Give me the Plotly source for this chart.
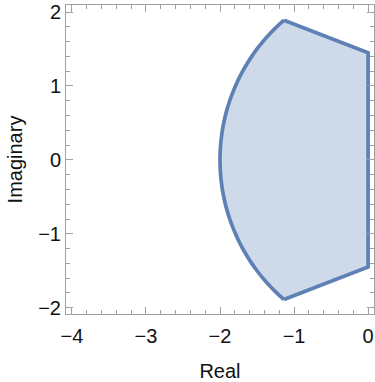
import plotly.graph_objects as go

# Curved (left) part of the boundary: imaginary values and real values
arc_im = [1.89, 1.8, 1.7, 1.6, 1.5, 1.4, 1.3, 1.2, 1.1, 1.0, 0.9, 0.8, 0.7, 0.6, 0.5, 0.4, 0.3, 0.2, 0.1, 0.0,
          -0.1, -0.2, -0.3, -0.4, -0.5, -0.6, -0.7, -0.8, -0.9, -1.0, -1.1, -1.2, -1.3, -1.4, -1.5, -1.6, -1.7, -1.8, -1.89]
arc_re = [-1.136, -1.235, -1.333, -1.421, -1.5, -1.571, -1.635, -1.693, -1.745, -1.791, -1.832, -1.869, -1.9,
          -1.927, -1.949, -1.968, -1.982, -1.992, -1.998, -2.0,
          -1.998, -1.992, -1.982, -1.968, -1.949, -1.927, -1.9, -1.869, -1.832, -1.791, -1.745, -1.693, -1.635,
          -1.571, -1.5, -1.421, -1.333, -1.235, -1.136]
# Straight part of the boundary: bottom corner -> right edge -> top corner
straight_re = [-1.136, 0.0, 0.0, -1.136]
straight_im = [-1.89, -1.45, 1.45, 1.89]

x_ticks = [-4, -3, -2, -1, 0]
y_ticks = [-2, -1, 0, 1, 2]

line_col = "#5E81B5"
fill_col = "rgba(94,129,181,0.30)"
frame_col = "#a0a0a0"

fig = go.Figure()
fig.add_trace(go.Scatter(
    x=arc_re + straight_re[1:], y=arc_im + straight_im[1:], mode="lines", fill="toself",
    fillcolor=fill_col, line=dict(width=0, color=fill_col), hoverinfo="skip", showlegend=False))
fig.add_trace(go.Scatter(
    x=arc_re, y=arc_im, mode="lines", line=dict(color=line_col, width=3.7, shape="spline"),
    hoverinfo="skip", showlegend=False))
fig.add_trace(go.Scatter(
    x=straight_re, y=straight_im, mode="lines", line=dict(color=line_col, width=3.7),
    hoverinfo="skip", showlegend=False))

axis_common = dict(
    showgrid=False, zeroline=False, showline=True, linecolor=frame_col, linewidth=1,
    mirror="ticks", ticks="inside", ticklen=7, tickcolor=frame_col, tickwidth=1,
    tickfont=dict(family="Liberation Sans, Arial, sans-serif", size=20, color="#111"),
    minor=dict(ticks="inside", ticklen=4, tickcolor=frame_col, dtick=0.2, showgrid=False),
)

fig.update_layout(
    width=375, height=382,
    margin=dict(l=66, r=1, t=5, b=68),
    paper_bgcolor="white", plot_bgcolor="white",
    font=dict(family="Liberation Sans, Arial, sans-serif", color="#111"),
    xaxis=dict(range=[-4.08, 0.08], tickvals=x_ticks,
               ticktext=["\u22124", "\u22123", "\u22122", "\u22121", "0"], ticklabelstandoff=4,
               title=dict(text="Real", font=dict(size=20), standoff=18), **axis_common),
    yaxis=dict(range=[-2.085, 2.095], tickvals=y_ticks,
               ticktext=["\u22122", "\u22121", "0", "1", "2"],
               title=dict(text="Imaginary", font=dict(size=20), standoff=10), **axis_common),
)

fig.write_html("out.html")
